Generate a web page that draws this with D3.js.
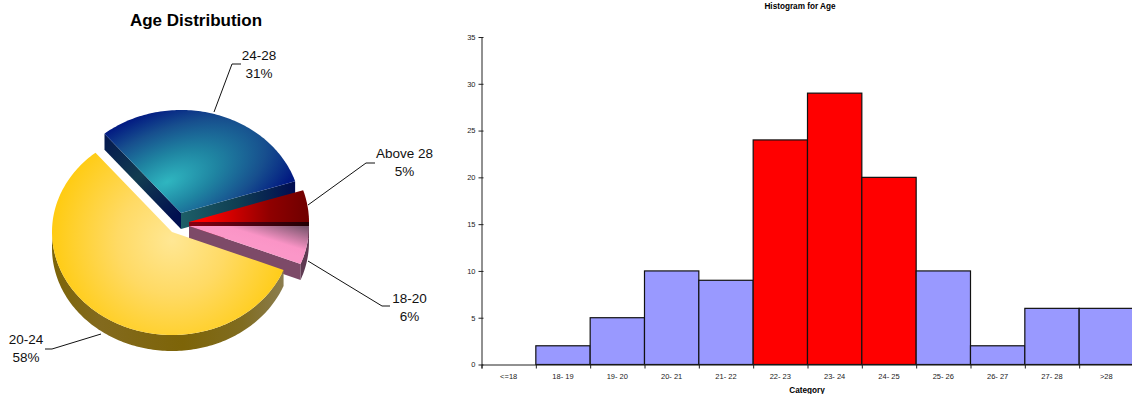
<!DOCTYPE html>
<html>
<head>
<meta charset="utf-8">
<script src="https://cdn.jsdelivr.net/npm/d3@7"></script>
<style>
    html, body { margin: 0; padding: 0; background: #fff; }
    svg { display: block; font-family: "Liberation Sans", Arial, sans-serif; }
</style>
</head>
<body>
<svg id="chart" width="1132" height="394"></svg>
<script>
// pie values
const pieCategories = ['18-20', '20-24', '24-28', 'Above 28']
const pieValues = [6, 58, 31, 5]

// histogram values
const histCategories = ['<=18', '18- 19', '19- 20', '20- 21', '21- 22', '22- 23', '23- 24', '24- 25', '25- 26', '26- 27', '27- 28', '>28']
const histValues = [0, 2, 5, 10, 9, 24, 29, 20, 10, 2, 6, 6]
const histHighlighted = ['22- 23', '23- 24', '24- 25']
const yTicks = [0, 5, 10, 15, 20, 25, 30, 35]

const svg = d3.select('#chart')
const defs = svg.append('defs')

function gradient(id, type, attrs, stops) {
    let g = defs.append(type).attr('id', id).attr('gradientUnits', 'userSpaceOnUse')
    Object.entries(attrs).forEach(([k, v]) => g.attr(k, v))
    stops.forEach(s => g.append('stop').attr('offset', s[0]).attr('stop-color', s[1]))
}

// ---- pie ----
const pieCfg = { cx: 176.5, cy: 224, rx: 120, ry: 103, depth: 16 }
const sliceStyle = {
    '18-20': { dx: 12.5, dy: 2, top: 'url(#pinkTop)', wall: '#5f3a52', cutEnd: '#7d4a68' },
    '20-24': { dx: -4.5, dy: 8, top: 'url(#yellowTop)', wall: 'url(#yellowWall)' },
    '24-28': { dx: 4.5, dy: -11, top: 'url(#blueTop)', cutStart: 'url(#blueLeft)', cutEnd: 'url(#blueRight)' },
    'Above 28': { dx: 12.5, dy: -2, top: 'url(#redTop)', cutEnd: 'url(#redCut)' }
}

gradient('yellowTop', 'radialGradient', { cx: 172, cy: 240, r: 122 }, [[0, '#ffe794'], [0.45, '#ffda64'], [1, '#ffcb10']])
gradient('yellowWall', 'linearGradient', { x1: 52, y1: 0, x2: 290, y2: 0 }, [[0, '#7c6408'], [0.2, '#836a1e'], [0.55, '#7d6408'], [0.8, '#806c20'], [1, '#8d8056']])
gradient('blueTop', 'radialGradient', { cx: 0, cy: 0, r: 1, gradientTransform: 'translate(167,182) rotate(-24) scale(150,72)' }, [[0, '#2fb6c0'], [0.35, '#1f85a2'], [0.7, '#174f8e'], [1, '#021a82']])
gradient('blueLeft', 'linearGradient', { x1: 106, y1: 132, x2: 181, y2: 212 }, [[0, '#03164f'], [0.5, '#123c50'], [1, '#010f50']])
gradient('blueRight', 'linearGradient', { x1: 181, y1: 0, x2: 296, y2: 0 }, [[0, '#1d5f68'], [0.5, '#0f3d52'], [1, '#000b50']])
gradient('redTop', 'linearGradient', { x1: 205, y1: 0, x2: 305, y2: 0 }, [[0, '#ff0000'], [0.65, '#8f0000'], [1, '#720000']])
gradient('redCut', 'linearGradient', { x1: 189, y1: 0, x2: 309, y2: 0 }, [[0, '#8a0012'], [0.5, '#4e0010'], [1, '#200004']])
gradient('pinkTop', 'linearGradient', { x1: 290, y1: 222, x2: 281, y2: 251 }, [[0, '#7a566e'], [0.75, '#fa94c6'], [1, '#fb97c8']])

const slices = d3.pie().sort(null).value(d => d.value)
    .startAngle(Math.PI / 2).endAngle(Math.PI * 2.5)(pieCategories.map((c, i) => ({ name: c, value: pieValues[i] })))

const line = d3.line().x(d => d[0]).y(d => d[1])

// point on a slice rim, angle measured clockwise from 12 o'clock
const rim = (o, a, drop = 0) => [
    o[0] + pieCfg.rx * Math.sin(a),
    o[1] - pieCfg.ry * Math.cos(a) + drop
]

function arcPoints(o, a0, a1, drop = 0) {
    let n = Math.max(2, Math.ceil((a1 - a0) / 0.02))
    return d3.range(n + 1).map(i => rim(o, a0 + (a1 - a0) * i / n, drop))
}

function drawSlice(s) {
    let st = sliceStyle[s.data.name]
    let o = [pieCfg.cx + st.dx, pieCfg.cy + st.dy]
    let g = svg.append('g').attr('class', 'slice')
    let d = pieCfg.depth
    let down = p => [p[0], p[1] + d]

    if (st.cutStart) {
        let p = rim(o, s.startAngle)
        g.append('path').attr('d', line([o, p, down(p), down(o)]) + 'Z').attr('fill', st.cutStart)
    }
    if (st.cutEnd) {
        let p = rim(o, s.endAngle)
        g.append('path').attr('d', line([o, p, down(p), down(o)]) + 'Z').attr('fill', st.cutEnd)
    }
    // outer wall only where the rim faces the viewer
    let a0 = Math.max(s.startAngle, Math.PI / 2)
    let a1 = Math.min(s.endAngle, Math.PI * 1.5)
    if (st.wall && a1 > a0) {
        let top = arcPoints(o, a0, a1)
        let bottom = arcPoints(o, a0, a1, d).reverse()
        g.append('path').attr('d', line(top.concat(bottom)) + 'Z').attr('fill', st.wall)
    }
    g.append('path')
        .attr('d', line([o].concat(arcPoints(o, s.startAngle, s.endAngle))) + 'Z')
        .attr('fill', st.top)
}

// back to front
;['24-28', 'Above 28', '18-20', '20-24'].forEach(name => drawSlice(slices.find(s => s.data.name === name)))

svg.append('text')
    .attr('x', 196).attr('y', 25.5)
    .attr('text-anchor', 'middle')
    .attr('font-size', 17).attr('font-weight', 'bold')
    .text('Age Distribution')

const pieLabels = [
    { name: '18-20', x: 409.5, y: 302.5, leader: [[308, 261], [382, 306], [390, 306]] },
    { name: '20-24', x: 26, y: 344, leader: [[101, 334], [52, 349], [45, 349]] },
    { name: '24-28', x: 259, y: 59.5, leader: [[214, 112], [232, 64], [241, 64]] },
    { name: 'Above 28', x: 404.5, y: 158, leader: [[308, 205], [366, 163], [375, 163]] }
]

pieLabels.forEach(l => {
    let s = slices.find(d => d.data.name === l.name)
    svg.append('path').attr('d', line(l.leader)).attr('fill', 'none').attr('stroke', '#111').attr('stroke-width', 1)
    let t = svg.append('text').attr('text-anchor', 'middle').attr('font-size', 13.5).attr('fill', '#111')
    t.append('tspan').attr('x', l.x).attr('y', l.y).text(l.name)
    t.append('tspan').attr('x', l.x).attr('y', l.y + 18).text(s.data.value + '%')
})

// ---- histogram ----
const hist = { left: 481.5, right: 1133.5, top: 37, bottom: 364.5 }

const xScale = d3.scaleBand().domain(histCategories).range([hist.left, hist.right]).padding(0)
const xEdges = d3.scaleLinear().domain([0, histCategories.length]).range([hist.left, hist.right])
const yScale = d3.scaleLinear().domain([0, 35]).range([hist.bottom, hist.top])

svg.append('g').selectAll('rect')
    .data(histCategories.map((c, i) => ({ c, v: histValues[i] })).filter(d => d.v > 0))
    .join('rect')
    .attr('x', d => xScale(d.c))
    .attr('y', d => yScale(d.v))
    .attr('width', xScale.bandwidth())
    .attr('height', d => yScale(0) - yScale(d.v))
    .attr('fill', d => histHighlighted.includes(d.c) ? '#ff0000' : '#9999ff')
    .attr('stroke', '#111')
    .attr('stroke-width', 1.2)

const yAxis = d3.axisLeft(yScale).tickValues(yTicks).tickSize(0).tickPadding(6)
const yAxisGroup = svg.append('g').attr('transform', `translate(${hist.left},0)`).call(yAxis)
yAxisGroup.selectAll('.tick line').attr('x1', -3).attr('x2', 2).attr('stroke', '#222')

const xEdgeAxis = d3.axisBottom(xEdges).tickValues(d3.range(histCategories.length + 1)).tickSize(4).tickFormat('')
const xEdgeGroup = svg.append('g').attr('transform', `translate(0,${hist.bottom})`).call(xEdgeAxis)
xEdgeGroup.selectAll('.tick line').attr('stroke', '#222')

const xAxis = d3.axisBottom(xScale).tickSize(0).tickPadding(9)
const xAxisGroup = svg.append('g').attr('transform', `translate(0,${hist.bottom})`).call(xAxis)
xAxisGroup.select('.domain').remove()

;[yAxisGroup, xEdgeGroup].forEach(g => g.select('.domain').attr('stroke', '#222'))
;[yAxisGroup, xAxisGroup].forEach(g => g.selectAll('text')
    .attr('font-family', '"Liberation Sans", Arial, sans-serif').attr('font-size', 7.5).attr('fill', '#222'))

svg.append('text')
    .attr('x', 800).attr('y', 8.5)
    .attr('text-anchor', 'middle')
    .attr('font-size', 8.2).attr('font-weight', 'bold')
    .text('Histogram for Age')

svg.append('text')
    .attr('x', 807).attr('y', 392.5)
    .attr('text-anchor', 'middle')
    .attr('font-size', 8.2).attr('font-weight', 'bold')
    .text('Category')
</script>
</body>
</html>
